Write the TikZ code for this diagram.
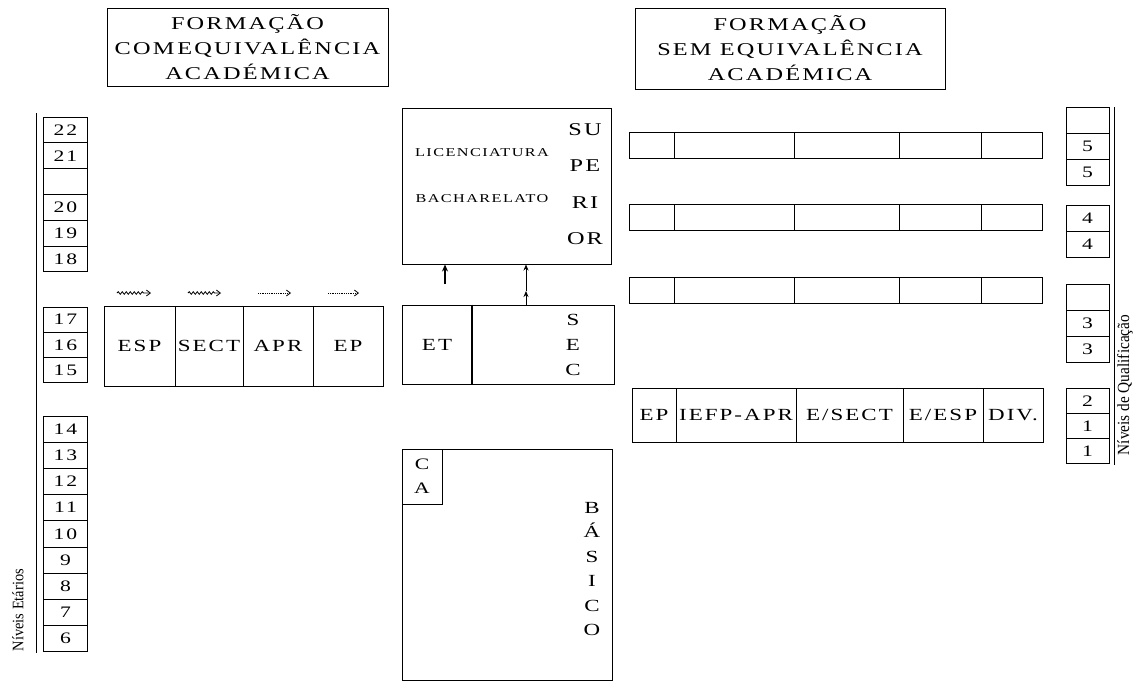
\documentclass[tikz,border=0pt]{standalone}
\usepackage{fontspec}
\setmainfont{Liberation Serif}
\newfontfamily\wfont[FakeStretch=1.35,LetterSpace=12]{Liberation Serif}
\newfontfamily\nfont[FakeStretch=0.9]{Liberation Serif}
\usetikzlibrary{arrows.meta, decorations.pathmorphing}
\tikzset{
  box/.style={draw, line width=1pt, inner sep=0pt},
  cell/.style={box, font=\wfont\fontsize{17}{20}\selectfont},
  numbox/.style={box, minimum width=44, font=\wfont\fontsize{16}{18}\selectfont},
  lbl/.style={inner sep=0pt, font=\wfont\fontsize{17}{20}\selectfont},
  wavyarrow/.style={decorate, decoration={snake, amplitude=1.3pt, segment length=4pt, post length=6pt}, -{Straight Barb[length=4pt, width=6pt]}, line width=0.8pt},
  dotarrow/.style={densely dotted, -{Straight Barb[length=4pt, width=6pt]}, line width=0.8pt},
}
\begin{document}
\begin{tikzpicture}[x=1pt, y=-1pt]
  \useasboundingbox (0,0) rectangle (1144,686);

  % Titles
  \node[box, minimum width=281, minimum height=78, align=center, font=\wfont\fontsize{18}{25}\selectfont] (titcom) at (247.5,47) {FORMAÇÃO\\COM\,EQUIVALÊNCIA\\ACADÉMICA};
  \node[box, minimum width=310, minimum height=81, align=center, font=\wfont\fontsize{18}{25}\selectfont] (titsem) at (790,48.5) {FORMAÇÃO\\SEM EQUIVALÊNCIA\\ACADÉMICA};

  % Age levels
  \draw[line width=1pt] (36,113) -- (36,653);
  \foreach \lab [count=\i from 0] in {22,21,{},20,19,18}
    \node[numbox, minimum height=25.8] (etA\i) at (65.5,129.9+25.8*\i) {\lab};
  \foreach \lab [count=\i from 0] in {17,16,15}
    \node[numbox, minimum height=25.3] (etB\i) at (65.5,319.7+25.3*\i) {\lab};
  \foreach \lab [count=\i from 0] in {14,13,12,11,10,9,8,7,6}
    \node[numbox, minimum height=26.2] (etC\i) at (65.5,429.1+26.2*\i) {\lab};
  \node[rotate=90, inner sep=0pt, font=\nfont\fontsize{16}{18}\selectfont] (nivet) at (18,610) {Níveis Etários};

  % Training with academic equivalence
  \node[cell, minimum width=71, minimum height=80] (esp) at (139.5,346) {ESP};
  \node[cell, minimum width=68, minimum height=80] (sect) at (209,346) {SECT};
  \node[cell, minimum width=70, minimum height=80] (apr) at (278,346) {APR};
  \node[cell, minimum width=70, minimum height=80] (ep) at (348,346) {EP};
  \coordinate (w1a) at (117,293); \coordinate (w1b) at (151,293);
  \coordinate (w2a) at (188,293); \coordinate (w2b) at (221,293);
  \coordinate (w3a) at (258,293); \coordinate (w3b) at (291,293);
  \coordinate (w4a) at (328,293); \coordinate (w4b) at (359,293);
  \draw[wavyarrow] (w1a) -- (w1b);
  \draw[wavyarrow] (w2a) -- (w2b);
  \draw[dotarrow] (w3a) -- (w3b);
  \draw[dotarrow] (w4a) -- (w4b);

  % Superior
  \node[box, minimum width=209, minimum height=156] (sup) at (506.5,186) {};
  \node[lbl, font=\wfont\fontsize{12}{14}\selectfont] (lic) at (482,153) {LICENCIATURA};
  \node[lbl, font=\wfont\fontsize{12}{14}\selectfont] (bach) at (482,199) {BACHARELATO};
  \node[lbl, align=center, font=\wfont\fontsize{18}{36.5}\selectfont] (supx) at (585,184) {SU\\PE\\RI\\OR};

  % Secondary
  \node[cell, minimum width=70, minimum height=79] (et) at (437,344.5) {ET};
  \node[box, minimum width=142, minimum height=79] (sec) at (543,344.5) {};
  \draw[line width=2pt] (sec.north west) -- (sec.south west);
  \node[lbl, align=center, font=\wfont\fontsize{17}{25}\selectfont] (secx) at (573,345) {S\\E\\C};
  \coordinate (up1) at (445,284);
  \draw[-{Stealth[length=7pt, width=6pt]}, line width=1.2pt] (up1) -- (up1 |- sup.south);
  \coordinate (up2) at (526,291);
  \draw[-{Stealth[length=6pt, width=5pt]}, line width=0.9pt] (sec.north -| up2) -- (up2);
  \draw[-{Stealth[length=6pt, width=5pt]}, line width=0.9pt] (up2) -- (up2 |- sup.south);

  % Basic
  \node[box, minimum width=210, minimum height=231] (bas) at (507,564.5) {};
  \node[box, minimum width=40, minimum height=55, align=center, font=\wfont\fontsize{16}{24}\selectfont] (ca) at (422,476.5) {C\\A};
  \node[lbl, align=center, font=\wfont\fontsize{17}{24.5}\selectfont] (basx) at (592,569) {B\\Á\\S\\I\\C\\O};

  % Training without academic equivalence
  \foreach \yy [count=\r] in {145,217,290}
    \foreach \xa/\xb [count=\c] in {629/674,674/794,794/899,899/981,981/1042}
      \node[box, minimum width=\xb-\xa, minimum height=26] (r\r-\c) at ({(\xa+\xb)/2},\yy) {};
  \node[cell, minimum width=44, minimum height=54] (qep) at (654,415) {EP};
  \node[cell, minimum width=120, minimum height=54] (qiefp) at (736,415) {IEFP-APR};
  \node[cell, minimum width=107, minimum height=54] (qsect) at (849.5,415) {E/SECT};
  \node[cell, minimum width=80, minimum height=54] (qesp) at (943,415) {E/ESP};
  \node[cell, minimum width=60, minimum height=54] (qdiv) at (1013,415) {DIV.};

  % Qualification levels
  \draw[line width=1pt] (1114,107) -- (1114,465);
  \foreach \lab [count=\i from 0] in {{},5,5}
    \node[numbox, minimum width=43, minimum height=26] (qA\i) at (1087.5,120+26*\i) {\lab};
  \foreach \lab [count=\i from 0] in {4,4}
    \node[numbox, minimum width=43, minimum height=26] (qB\i) at (1087.5,218+26*\i) {\lab};
  \foreach \lab [count=\i from 0] in {{},3,3}
    \node[numbox, minimum width=43, minimum height=26] (qC\i) at (1087.5,297+26*\i) {\lab};
  \foreach \lab [count=\i from 0] in {2,1,1}
    \node[numbox, minimum width=43, minimum height=25.3] (qD\i) at (1087.5,400.7+25.3*\i) {\lab};
  \node[rotate=90, inner sep=0pt, font=\nfont\fontsize{17}{18}\selectfont] (nivq) at (1125,385) {Níveis de Qualificação};
\end{tikzpicture}
\end{document}
